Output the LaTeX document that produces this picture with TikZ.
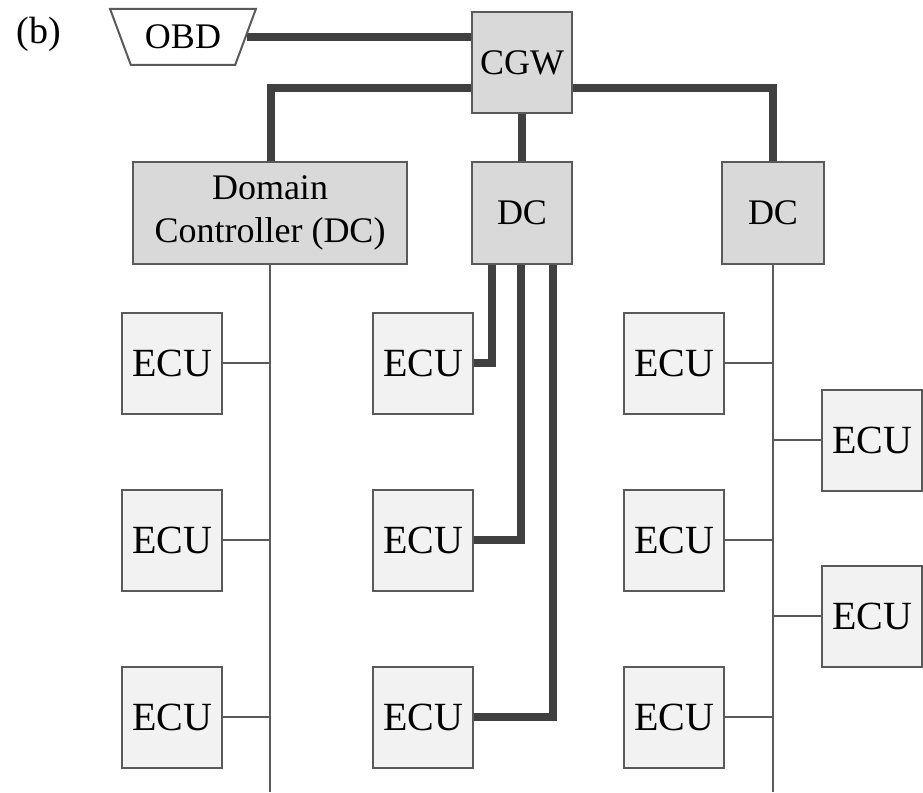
\documentclass[tikz,border=0pt]{standalone}
\usepackage{fontspec}
\setmainfont{Liberation Serif}
\usetikzlibrary{shapes.geometric,backgrounds}
\definecolor{busgray}{HTML}{404040}
\definecolor{edgegray}{HTML}{5A5A5A}
\definecolor{ctrlfill}{HTML}{D9D9D9}
\definecolor{ecufill}{HTML}{F2F2F2}
\tikzset{
  ctrlbox/.style={draw=edgegray, line width=2pt, fill=ctrlfill, inner sep=0pt,
    minimum width=100pt, minimum height=102pt, align=center,
    font=\fontsize{36}{43}\selectfont},
  ecubox/.style={draw=edgegray, line width=2pt, fill=ecufill, inner sep=0pt,
    minimum width=100pt, minimum height=101pt,
    font=\fontsize{40}{44}\selectfont},
  bus/.style={draw=busgray, line width=8pt},
  link/.style={draw=edgegray, line width=2.2pt},
}
\begin{document}
\begin{tikzpicture}[x=1pt, y=-1pt]
  \useasboundingbox (0,0) rectangle (923,792);

  % panel label
  \node[inner sep=0pt, font=\fontsize{38}{42}\selectfont] (lbl) at (39,34) {(b)};

  % diagnostics port
  \node[trapezium, shape border rotate=180, trapezium stretches=true,
        trapezium angle=58, minimum width=146pt, minimum height=56pt,
        draw=edgegray, line width=2pt, fill=white, inner sep=0pt,
        font=\fontsize{36}{40}\selectfont] (obd) at (183,37) {OBD};

  % central gateway and domain controllers
  \node[ctrlbox, minimum height=101pt] (cgw) at (522,62.5) {CGW};
  \node[ctrlbox, minimum width=274pt] (dcl) at (270,213) {Domain\\Controller (DC)};
  \node[ctrlbox] (dcm) at (522,213) {DC};
  \node[ctrlbox, minimum width=102pt] (dcr) at (773,213) {DC};

  % ECUs, left domain
  \node[ecubox] (el1) at (172,363) {ECU};
  \node[ecubox] (el2) at (172,540) {ECU};
  \node[ecubox] (el3) at (172,717) {ECU};
  % ECUs, middle domain
  \node[ecubox] (em1) at (423,363) {ECU};
  \node[ecubox] (em2) at (423,540) {ECU};
  \node[ecubox] (em3) at (423,717) {ECU};
  % ECUs, right domain
  \node[ecubox] (er1) at (674,363) {ECU};
  \node[ecubox] (er2) at (674,540) {ECU};
  \node[ecubox] (er3) at (674,717) {ECU};
  \node[ecubox] (es1) at (872,440) {ECU};
  \node[ecubox] (es2) at (872,616) {ECU};

  % open ends of the two shared buses
  \coordinate (lend) at (270,792);
  \coordinate (rend) at (773,792);

  \begin{scope}[on background layer]
    % backbone
    \draw[bus] (obd.east) -- (obd.east -| cgw.west);
    \draw[bus] (cgw.west |- 0,88) -| ([xshift=1pt]dcl.north);
    \draw[bus] (cgw.east |- 0,88) -| (dcr.north);
    \draw[bus] (cgw.south) -- (dcm.north);
    % point-to-point links of the middle domain
    \draw[bus] ([xshift=-30pt]dcm.south) |- (em1.east);
    \draw[bus] ([xshift=-1pt]dcm.south) |- (em2.east);
    \draw[bus] ([xshift=31pt]dcm.south) |- (em3.east);
    % shared bus, left domain
    \draw[link] (dcl.south) -- (lend);
    \draw[link] (el1.east) -- (el1.east -| lend);
    \draw[link] (el2.east) -- (el2.east -| lend);
    \draw[link] (el3.east) -- (el3.east -| lend);
    % shared bus, right domain
    \draw[link] (dcr.south) -- (rend);
    \draw[link] (er1.east) -- (er1.east -| rend);
    \draw[link] (er2.east) -- (er2.east -| rend);
    \draw[link] (er3.east) -- (er3.east -| rend);
    \draw[link] (es1.west) -- (es1.west -| rend);
    \draw[link] (es2.west) -- (es2.west -| rend);
  \end{scope}
\end{tikzpicture}
\end{document}
